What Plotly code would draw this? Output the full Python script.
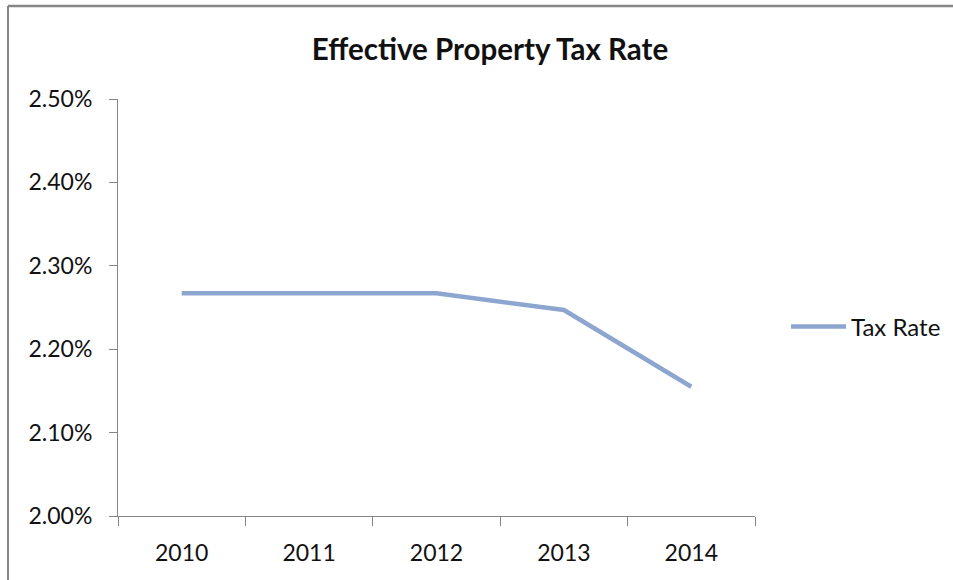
import plotly.graph_objects as go

# data
years = ['2010', '2011', '2012', '2013', '2014']
tax_rate = [0.02267, 0.02267, 0.02267, 0.02247, 0.02155]
y_ticks = [0.020, 0.021, 0.022, 0.023, 0.024, 0.025]

FONT = 'Lato'
AXIS_GREY = '#868686'
TEXT = '#111111'

fig = go.Figure()
fig.add_trace(go.Scatter(
    x=years, y=tax_rate, name='Tax Rate', mode='lines',
    line=dict(color='#8DA6D0', width=4.5),
))

fig.update_layout(
    width=953, height=580,
    margin=dict(l=118, r=198, t=99, b=64),
    paper_bgcolor='white', plot_bgcolor='white',
    font=dict(family=FONT, size=23, color=TEXT),
    title=dict(
        text='<b>Effective Property Tax Rate</b>',
        x=490 / 953, xanchor='center', y=1 - 50 / 580, yanchor='middle',
        font=dict(family=FONT, size=29.5, color=TEXT),
    ),
    showlegend=True,
    legend=dict(
        xref='container', yref='container',
        x=786 / 953, xanchor='left', y=1 - 327 / 580, yanchor='middle',
        itemwidth=55,
        font=dict(family=FONT, size=24, color=TEXT),
        bgcolor='rgba(0,0,0,0)',
    ),
    # outer chart frame (only top and left edges are visible in the crop)
    shapes=[
        dict(type='line', xref='paper', yref='paper',
             x0=-110 / 637, x1=(953 - 118) / 637,
             y0=(516 - 6) / 417, y1=(516 - 6) / 417,
             line=dict(color=AXIS_GREY, width=2.5)),
        dict(type='line', xref='paper', yref='paper',
             x0=-110 / 637, x1=-110 / 637, y0=(516 - 6) / 417, y1=-0.2,
             line=dict(color=AXIS_GREY, width=2)),
    ],
)

fig.update_xaxes(
    type='category', range=[-0.5, 4.5],
    showline=True, linecolor=AXIS_GREY, linewidth=1,
    ticks='outside', tickson='boundaries', ticklen=9, tickcolor=AXIS_GREY,
    showgrid=False, zeroline=False, ticklabelstandoff=16,
)
fig.update_yaxes(
    range=[0.020, 0.025], tickvals=y_ticks, tickformat='.2%',
    showline=True, linecolor=AXIS_GREY, linewidth=1,
    ticks='outside', ticklen=8, tickcolor=AXIS_GREY,
    showgrid=False, zeroline=False, ticklabelstandoff=12,
)

page_js = ("document.body.style.margin='0';"
           "document.body.style.overflow='hidden';"
           "document.documentElement.style.overflow='hidden';")
fig.write_html('out.html', config={'displayModeBar': False}, post_script=page_js)
